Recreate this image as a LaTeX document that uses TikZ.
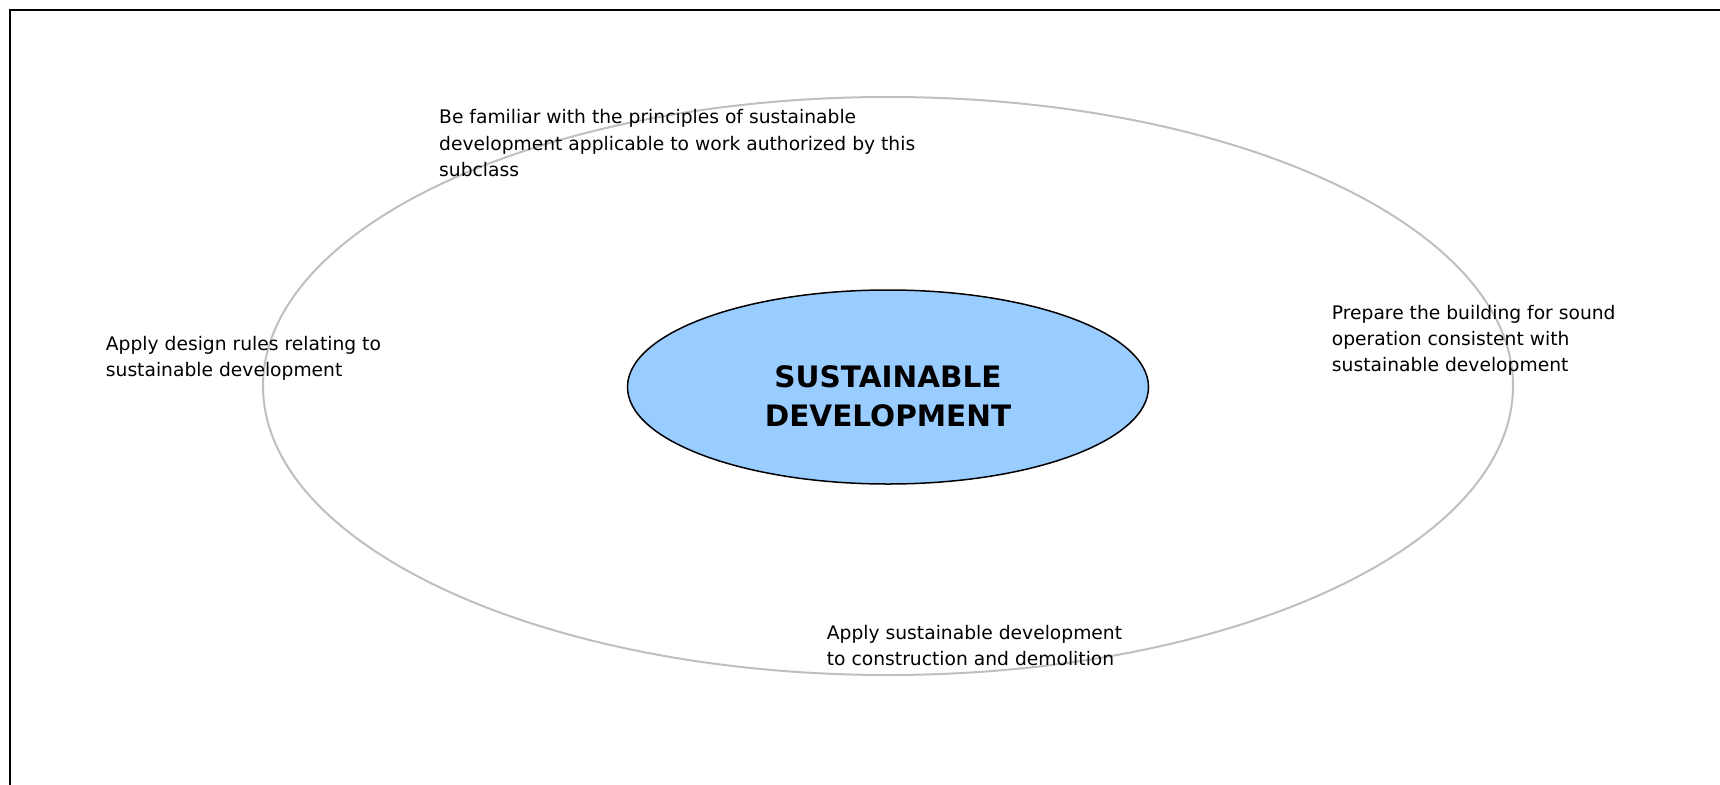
\documentclass[tikz,border=0pt]{standalone}
\usepackage{fontspec}
\setmainfont{DejaVu Sans}
\usetikzlibrary{shapes.geometric}
\begin{document}
\begin{tikzpicture}[x=1pt,y=-1pt,
  ring/.style={draw=black!25, line width=2pt},
  corebox/.style={ellipse, draw=black, line width=1.5pt, fill=coreblue, inner sep=0pt},
  coretext/.style={font=\fontsize{29.5}{39}\selectfont\bfseries, align=center, inner sep=0pt},
  item/.style={font=\fontsize{18.7}{25.5}\selectfont, align=left, anchor=base west, inner sep=0pt},
  frame/.style={draw=black, line width=2pt}]
\definecolor{coreblue}{HTML}{99CCFF}
\useasboundingbox (0,0) rectangle (1720,784);
\draw[frame] (10.3,790) -- (10.3,10.5) -- (1730,10.5);
\node[ellipse, ring, minimum width=1250pt, minimum height=578pt, inner sep=0pt] (ring) at (888,386) {};
\node[corebox, minimum width=521pt, minimum height=194pt] (core) at (888,387) {};
\node[coretext] (coretitle) at (888,396) {SUSTAINABLE\\DEVELOPMENT};
\node[item, font=\fontsize{18.7}{26.8}\selectfont] (top) at (439,176.8) {Be familiar with the principles of sustainable\\development applicable to work authorized by this\\subclass};
\node[item] (left) at (105.7,376) {Apply design rules relating to\\sustainable development};
\node[item, font=\fontsize{18.7}{26}\selectfont] (right) at (1331.7,371.3) {Prepare the building for sound\\operation consistent with\\sustainable development};
\node[item] (bottom) at (826.7,665) {Apply sustainable development\\to construction and demolition};
\end{tikzpicture}
\end{document}
